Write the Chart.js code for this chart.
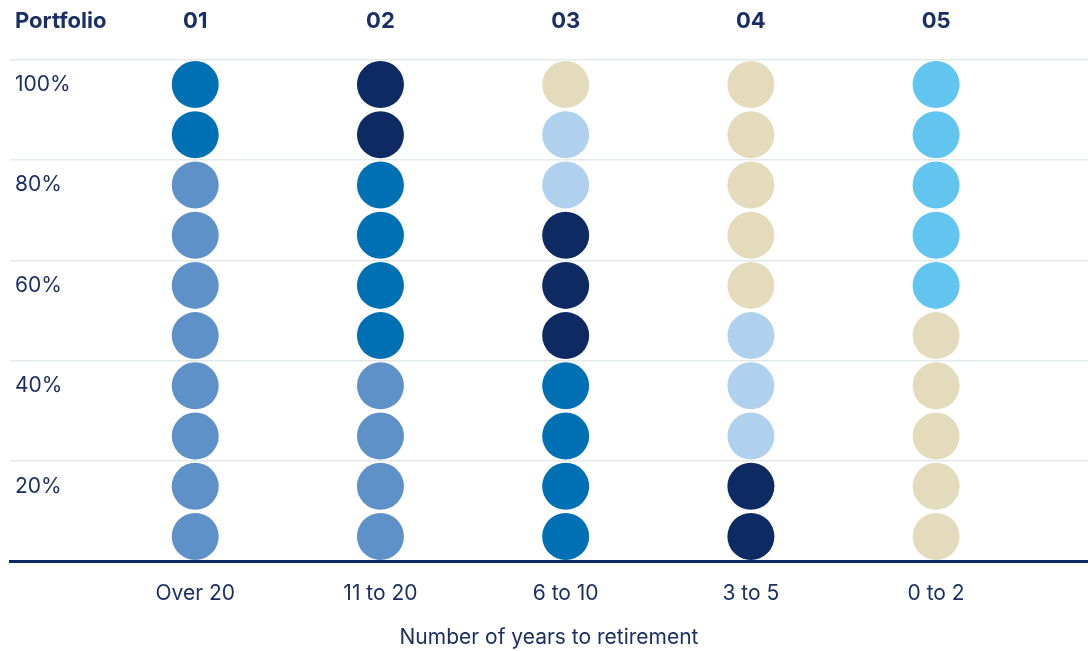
<!DOCTYPE html>
<html>
<head>
<meta charset="utf-8">
<script src="https://cdn.jsdelivr.net/npm/chart.js@4"></script>
<style>
  html, body { margin: 0; padding: 0; background: #fff; overflow: hidden; }
  #wrap { width: 1088px; height: 651px; }
  canvas { display: block; }
</style>
</head>
<body>
<div id="wrap"><canvas id="glideChart"></canvas></div>
<script>
// Portfolios (columns) and their labels
const portfolios = ['01', '02', '03', '04', '05'];
const yearsToRetirement = ['Over 20', '11 to 20', '6 to 10', '3 to 5', '0 to 2'];
const yTickLabels = ['100%', '80%', '60%', '40%', '20%'];

// Allocation per portfolio in % (each dot = 10%), stacked bottom to top
const steelBlue = [80, 40, 0, 0, 0];
const midBlue   = [20, 40, 40, 0, 0];
const navy      = [0, 20, 30, 20, 0];
const paleBlue  = [0, 0, 20, 30, 0];
const beige     = [0, 0, 10, 50, 50];
const cyan      = [0, 0, 0, 0, 50];

const textColor = '#1b2f65';
const font = 'Inter, "Noto Sans", sans-serif';

// Config des séries (ordre d'empilement)
const seriesConfigs = [
    { label: 'steel', color: '#5f91c9', values: steelBlue },
    { label: 'mid', color: '#0070b4', values: midBlue },
    { label: 'navy', color: '#0e2a62', values: navy },
    { label: 'pale', color: '#b0d1ee', values: paleBlue },
    { label: 'beige', color: '#e4dbbc', values: beige },
    { label: 'cyan', color: '#61c5f0', values: cyan }
];

// one dot per 10%, centred in its slot
const cumul = portfolios.map(() => 0);
const datasets = seriesConfigs.map(s => {
    const pts = [];
    s.values.forEach((v, i) => {
        for (let k = 0; k < v / 10; k++) {
            pts.push({ x: i, y: cumul[i] + 5 });
            cumul[i] += 10;
        }
    });
    return {
        label: s.label,
        data: pts,
        backgroundColor: s.color,
        pointBackgroundColor: s.color,
        pointBorderWidth: 0,
        pointRadius: 23.5,
        pointHoverRadius: 23.5
    };
});

// "Portfolio" header, on the same row as 01..05
const headerPlugin = {
    id: 'header',
    afterDraw(chart) {
        const top = chart.scales.xTop;
        const ctx = chart.ctx;
        ctx.save();
        ctx.font = 'bold 22px ' + font;
        ctx.fillStyle = textColor;
        ctx.textAlign = 'left';
        ctx.textBaseline = 'middle';
        ctx.fillText('Portfolio', 15, top.bottom - top.options.ticks.padding - 13);
        ctx.restore();
    }
};

const colTicks = scale => { scale.ticks = portfolios.map((p, i) => ({ value: i })); };
// y axes take no room: labels are drawn inside the plot
const noRoom = scale => {
    scale.width = 0;
    scale.paddingTop = 0;
    scale.paddingBottom = 0;
};
// tick padding gets counted twice on horizontal axes, take one off
const trimPadding = scale => { scale.height -= scale.options.ticks.padding; };

new Chart(document.getElementById('glideChart'), {
    type: 'scatter',
    data: { datasets: datasets },
    options: {
        responsive: true,
        maintainAspectRatio: false,
        animation: false,
        layout: { autoPadding: false, padding: { left: 10, right: 0, top: 8, bottom: 1 } },
        plugins: {
            legend: { display: false },
            tooltip: { enabled: false }
        },
        scales: {
            x: {
                type: 'linear',
                position: 'bottom',
                min: -1,
                max: 4.82,
                afterBuildTicks: colTicks,
                afterFit: trimPadding,
                grid: { display: false, drawTicks: false },
                border: { display: true, color: '#0e2a62', width: 3 },
                ticks: {
                    padding: 19,
                    color: textColor,
                    font: { family: font, size: 21 },
                    callback: v => yearsToRetirement[v]
                },
                title: {
                    display: true,
                    text: 'Number of years to retirement',
                    color: textColor,
                    font: { family: font, size: 21 },
                    padding: { top: 19, bottom: 0 }
                }
            },
            xTop: {
                type: 'linear',
                position: 'top',
                min: -1,
                max: 4.82,
                afterBuildTicks: colTicks,
                afterFit: trimPadding,
                grid: { display: false, drawTicks: false },
                border: { display: false },
                ticks: {
                    padding: 25,
                    color: textColor,
                    font: { family: font, size: 22, weight: 'bold' },
                    callback: v => portfolios[v]
                }
            },
            y: {
                type: 'linear',
                position: 'left',
                min: 0,
                max: 100,
                afterBuildTicks: scale => { scale.ticks = [20, 40, 60, 80, 100].map(v => ({ value: v })); },
                afterFit: noRoom,
                grid: { color: '#e3eaea', lineWidth: 1.5, drawTicks: false },
                border: { display: false },
                ticks: { display: false }
            },
            yLab: {
                type: 'linear',
                position: 'left',
                min: 0,
                max: 100,
                afterBuildTicks: scale => { scale.ticks = [95, 75, 55, 35, 15].map(v => ({ value: v })); },
                afterFit: noRoom,
                grid: { display: false, drawTicks: false },
                border: { display: false },
                ticks: {
                    mirror: true,
                    padding: 5,
                    color: textColor,
                    font: { family: font, size: 21 },
                    callback: (v, i) => yTickLabels[i]
                }
            }
        }
    },
    plugins: [headerPlugin]
});
</script>
</body>
</html>
